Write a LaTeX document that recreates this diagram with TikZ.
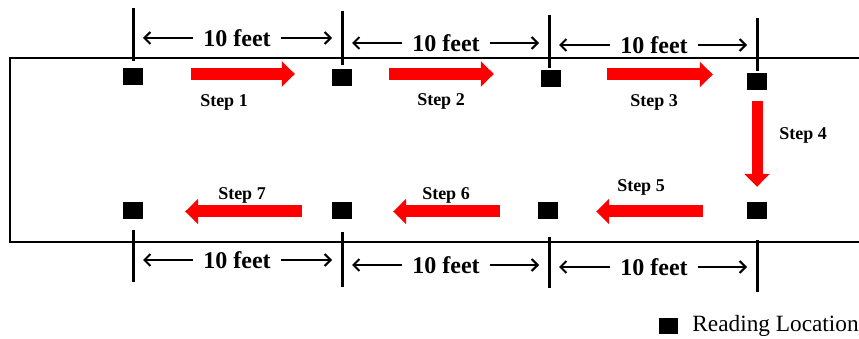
\documentclass[tikz,border=0pt]{standalone}
\usepackage{fontspec}
\setmainfont{Liberation Serif}
\usetikzlibrary{arrows.meta,positioning}
\tikzset{
  loc/.style={fill=black, minimum width=20pt, minimum height=17pt, inner sep=0pt},
  tickline/.style={line width=3pt},
  steparrow/.style={red, line width=12pt, -{Triangle[width=25pt,length=13pt]}},
  dimarrow/.style={line width=2pt, -{Straight Barb[length=6pt,width=12pt,line width=2pt]}, shorten >=10pt},
  dimlabel/.style={font=\fontsize{24}{28}\selectfont\bfseries, inner xsep=10pt, inner ysep=0pt},
  steplabel/.style={font=\fontsize{18}{20}\selectfont\bfseries, inner sep=0pt}
}
\begin{document}
\begin{tikzpicture}[x=1pt, y=-1pt]
\useasboundingbox (0,0) rectangle (859,339);
\draw [line width=2pt] (862,58) -- (10,58) -- (10,241.5) -- (862,241.5);
% ticks
\coordinate (tt1) at (133,8);   \draw [tickline] (tt1) -- (133,61);
\coordinate (tt2) at (342,11);  \draw [tickline] (tt2) -- (342,65);
\coordinate (tt3) at (549,15);  \draw [tickline] (tt3) -- (549,68);
\coordinate (tt4) at (757,18);  \draw [tickline] (tt4) -- (757,71);
\coordinate (bt1) at (133,282); \draw [tickline] (bt1) -- (133,230);
\coordinate (bt2) at (342,287); \draw [tickline] (bt2) -- (342,232);
\coordinate (bt3) at (549,288); \draw [tickline] (bt3) -- (549,237);
\coordinate (bt4) at (757,292); \draw [tickline] (bt4) -- (757,240);
% reading locations
\node [loc] (loc1) at (133,76.5) {};
\node [loc] (loc2) at (342,77.5) {};
\node [loc] (loc3) at (551,78.5) {};
\node [loc] (loc4) at (757,81.5) {};
\node [loc] (loc5) at (133,210.5) {};
\node [loc] (loc6) at (342,210.5) {};
\node [loc] (loc7) at (548,210.5) {};
\node [loc] (loc8) at (757,210.5) {};
% distances
\node [dimlabel] (dt1) at (237,38) {10 feet};
\node [dimlabel] (dt2) at (446,43) {10 feet};
\node [dimlabel] (dt3) at (654,45) {10 feet};
\node [dimlabel] (db1) at (237,260) {10 feet};
\node [dimlabel] (db2) at (446,265) {10 feet};
\node [dimlabel] (db3) at (654,267) {10 feet};
\draw [dimarrow] (dt1.west) -- (dt1 -| tt1);
\draw [dimarrow] (dt1.east) -- (dt1 -| tt2);
\draw [dimarrow] (dt2.west) -- (dt2 -| tt2);
\draw [dimarrow] (dt2.east) -- (dt2 -| tt3);
\draw [dimarrow] (dt3.west) -- (dt3 -| tt3);
\draw [dimarrow] (dt3.east) -- (dt3 -| tt4);
\draw [dimarrow] (db1.west) -- (db1 -| bt1);
\draw [dimarrow] (db1.east) -- (db1 -| bt2);
\draw [dimarrow] (db2.west) -- (db2 -| bt2);
\draw [dimarrow] (db2.east) -- (db2 -| bt3);
\draw [dimarrow] (db3.west) -- (db3 -| bt3);
\draw [dimarrow] (db3.east) -- (db3 -| bt4);
% steps
\draw [steparrow, shorten <=48pt, shorten >=37pt] ([yshift=2.5pt]loc1.east) -- ([yshift=2.5pt]loc1.east -| loc2.west);
\draw [steparrow, shorten <=37pt, shorten >=47pt] ([yshift=3.5pt]loc2.east) -- ([yshift=3.5pt]loc2.east -| loc3.west);
\draw [steparrow, shorten <=46pt, shorten >=34pt] ([yshift=4pt]loc3.east) -- ([yshift=4pt]loc3.east -| loc4.west);
\draw [steparrow, line width=11pt, shorten <=11pt, shorten >=15pt] (loc4.south) -- (loc8.north);
\draw [steparrow, shorten <=44pt, shorten >=38pt] ([yshift=-1pt]loc8.west) -- ([yshift=-1pt]loc7.east);
\draw [steparrow, shorten <=38pt, shorten >=41pt] ([yshift=-1pt]loc7.west) -- ([yshift=-1pt]loc6.east);
\draw [steparrow, shorten <=30pt, shorten >=42pt] ([yshift=-1pt]loc6.west) -- ([yshift=-1pt]loc5.east);
\node [steplabel] (s1) at (224,102) {Step 1};
\node [steplabel] (s2) at (441,101) {Step 2};
\node [steplabel] (s3) at (654,102) {Step 3};
\node [steplabel] (s4) at (803,135) {Step 4};
\node [steplabel] (s5) at (641,187) {Step 5};
\node [steplabel] (s6) at (446,195) {Step 6};
\node [steplabel] (s7) at (242,195) {Step 7};
% legend
\node [loc, minimum width=19pt, minimum height=16pt] (legsq) at (668.5,326) {};
\node [right=14pt of legsq, inner sep=0pt, font=\fontsize{23.3}{26}\selectfont] (legtext) {Reading Location};
\end{tikzpicture}
\end{document}
